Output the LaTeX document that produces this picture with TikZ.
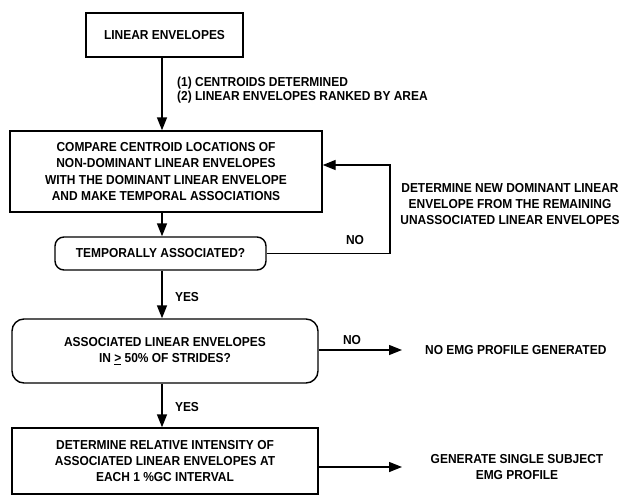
\documentclass[tikz,border=0pt]{standalone}
\usepackage{fontspec}
\setmainfont[FakeStretch=0.92]{Liberation Sans}
\usetikzlibrary{arrows.meta}
\begin{document}
\begin{tikzpicture}[x=1pt,y=-1pt,
  every node/.style={font=\bfseries\fontsize{13}{16.3}\selectfont, inner sep=0pt, align=center},
  sqbox/.style={draw, line width=1.4pt, rectangle},
  rdbox/.style={draw, line width=1.4pt, rectangle, rounded corners=9pt},
  flow/.style={line width=1.4pt, -{Triangle[width=10pt,length=13pt]}},
  lbl/.style={anchor=west, align=left}]
\useasboundingbox (0,0) rectangle (635,496);
\node[sqbox, minimum width=157pt, minimum height=44pt] (b1) at (164.5,35) {LINEAR ENVELOPES};
\node[sqbox, minimum width=312pt, minimum height=81pt] (b2) at (166,171.5) {COMPARE CENTROID LOCATIONS OF\\NON-DOMINANT LINEAR ENVELOPES\\WITH THE DOMINANT LINEAR ENVELOPE\\AND MAKE TEMPORAL ASSOCIATIONS};
\node[rdbox, minimum width=211pt, minimum height=33pt] (d1) at (160.5,253.5) {TEMPORALLY ASSOCIATED?};
\node[rdbox, rounded corners=12pt, minimum width=306pt, minimum height=64pt] (d2) at (165,351) {ASSOCIATED LINEAR ENVELOPES\\IN \underline{>} 50\% OF STRIDES?};
\node[sqbox, minimum width=306pt, minimum height=66pt] (b3) at (165,461) {DETERMINE RELATIVE INTENSITY OF\\ASSOCIATED LINEAR ENVELOPES AT\\EACH 1 \%GC INTERVAL};
\coordinate (c1) at (162,0);
\draw[flow] (c1 |- b1.south) -- (c1 |- b2.north);
\draw[flow] (c1 |- b2.south) -- (c1 |- d1.north);
\draw[flow] (c1 |- d1.south) -- (c1 |- d2.north);
\draw[flow] (c1 |- d2.south) -- (c1 |- b3.north);
\coordinate (loopc) at (390,165);
\draw[flow] (d1.east) -| (loopc) -- (b2.east |- loopc);
\coordinate (e1) at (402,350);
\coordinate (e2) at (402,467);
\draw[flow] (d2.east |- e1) -- (e1);
\draw[flow] (b3.east |- e2) -- (e2);
\node[lbl, font=\bfseries\fontsize{13}{14.5}\selectfont] (t1) at (177,90) {(1) CENTROIDS DETERMINED\\(2) LINEAR ENVELOPES RANKED BY AREA};
\node (no1) at (355,240) {NO};
\node (no2) at (352,340) {NO};
\node (yes1) at (187,297) {YES};
\node (yes2) at (187,407) {YES};
\node (t2) at (510,204) {DETERMINE NEW DOMINANT LINEAR\\ENVELOPE FROM THE REMAINING\\UNASSOCIATED LINEAR ENVELOPES};
\node[lbl] (t3) at (425,350) {NO EMG PROFILE GENERATED};
\node (t4) at (517,467) {GENERATE SINGLE SUBJECT\\EMG PROFILE};
\end{tikzpicture}
\end{document}
